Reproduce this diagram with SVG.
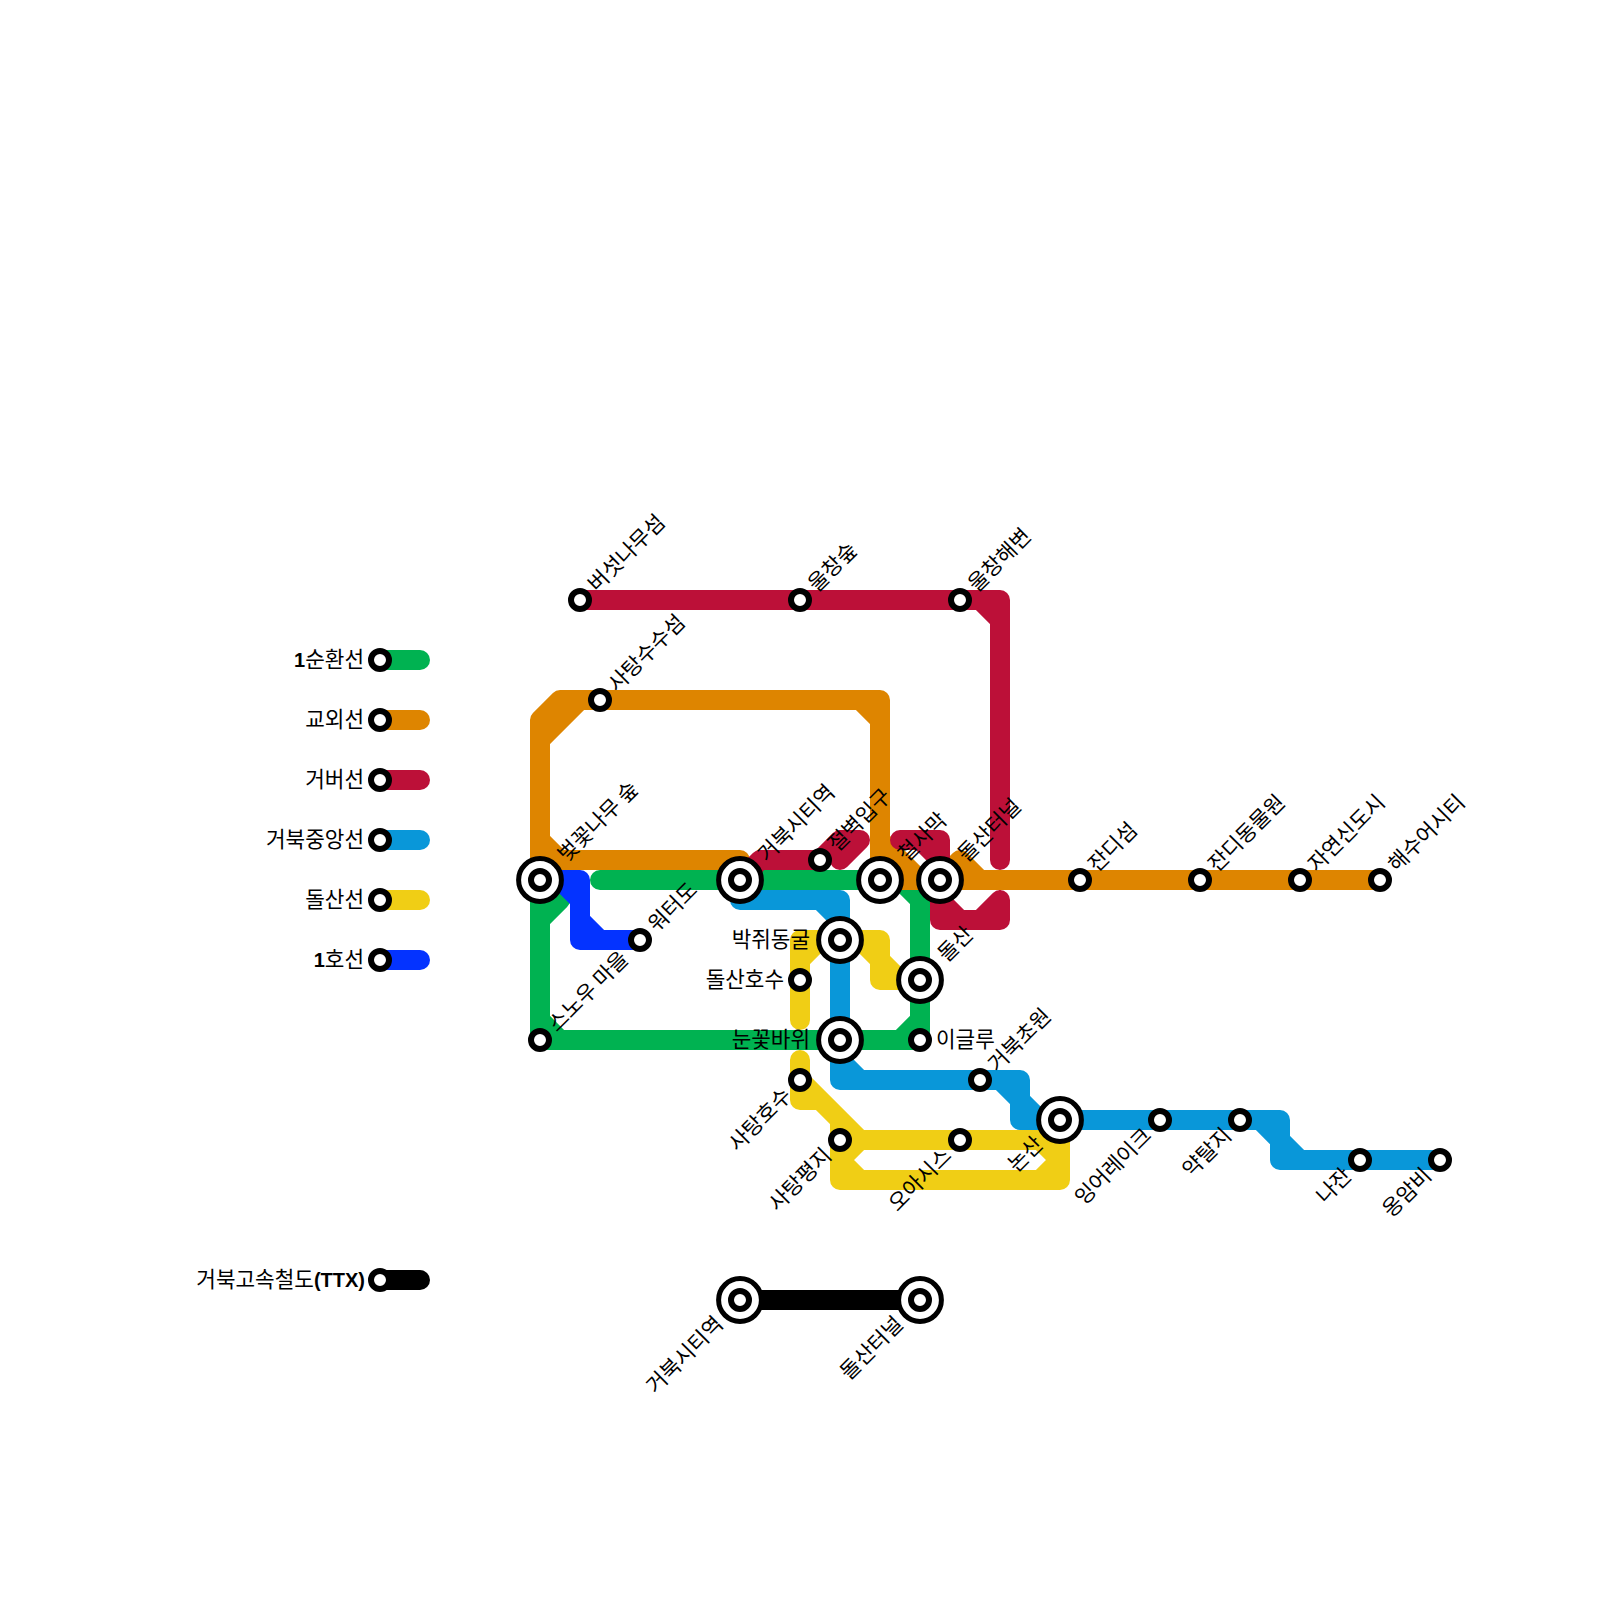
<svg xmlns="http://www.w3.org/2000/svg" width="1600" height="1600" viewBox="0 0 1600 1600">
<style>
text{font-family:"Noto Sans CJK KR","Liberation Sans",sans-serif;font-size:21.3px;fill:#000}
.b{font-family:"Liberation Sans",sans-serif;font-weight:700;font-size:20px}
.l{fill:none;stroke-width:20;stroke-linecap:round;stroke-linejoin:round}
.g{stroke:#00b251}.o{stroke:#de8500}.r{stroke:#bc1038}.c{stroke:#0997d9}.y{stroke:#f0ce15}.u{stroke:#0433ff}.k{stroke:#000}
.s{fill:#fff;stroke:#000;stroke-width:6}
.t{stroke-width:5}
.e{text-anchor:end}
</style>
<defs>
<g id="st"><circle class="s" r="9"/></g>
<g id="ix"><circle class="s t" r="21.4"/><circle class="s" r="9"/></g>
</defs>
<rect width="1600" height="1600" fill="#fff"/>
<g id="connectors">
<path class="l y" d="M800 1020V940H880V980H920M800 960L820 940M860 940L880 960L900 980"/>
<path class="l y" d="M800 1060V1100H820L840 1120V1180H1060V1120M800 1080L860 1140H1060M860 1140L840 1160L860 1180M1040 1180L1060 1160L1040 1140"/>
<path class="l c" d="M740 880V900H840V1080H1020V1120H1280V1160H1440M820 900L840 920M840 1060L860 1080M1000 1080L1020 1100L1040 1120M1260 1120L1280 1140L1300 1160"/>
<path class="l g" d="M600 880H920V1040H540V880L560 900L540 920M900 880L920 900M900 1040L920 1020M540 1020L560 1040"/>
<path class="l u" d="M540 880H580V940H640M560 880L580 900M580 920L600 940"/>
<path class="l o" d="M540 880V720L560 700H880V880L920 880M580 700L540 740M860 700L880 720M540 860H740V880M540 840L560 860M880 840L920 880M940 880L960 860L980 880M940 880H1380"/>
<path class="l r" d="M580 600H1000V860M980 600L1000 620M740 880L760 860H820L840 840H860L840 860M820 860L840 840M900 840H940V880M920 840L940 860M940 880V920H1000V900M940 900L960 920M980 920L1000 900"/>
<path class="l k" d="M740 1300H920"/>
<path class="l g" d="M380 660H420"/><path class="l o" d="M380 720H420"/><path class="l r" d="M380 780H420"/><path class="l c" d="M380 840H420"/><path class="l y" d="M380 900H420"/><path class="l u" d="M380 960H420"/><path class="l k" d="M380 1280H420"/>
</g>
<g id="legend">
<g id="lg1"><use href="#st" x="380" y="660"/><text x="364" y="666.500" class="e"><tspan class="b">1</tspan>순환선</text></g>
<g id="lg2"><use href="#st" x="380" y="720"/><text x="364" y="726.500" class="e">교외선</text></g>
<g id="lg3"><use href="#st" x="380" y="780"/><text x="364" y="786.500" class="e">거버선</text></g>
<g id="lg4"><use href="#st" x="380" y="840"/><text x="364" y="846.500" class="e">거북중앙선</text></g>
<g id="lg5"><use href="#st" x="380" y="900"/><text x="364" y="906.500" class="e">돌산선</text></g>
<g id="lg6"><use href="#st" x="380" y="960"/><text x="364" y="966.500" class="e"><tspan class="b">1</tspan>호선</text></g>
<g id="lg7"><use href="#st" x="380" y="1280"/><text x="365" y="1286.500" class="e">거북고속철도<tspan class="b">(TTX)</tspan></text></g>
</g>
<g id="n1"><use href="#ix" x="540" y="880"/><text transform="translate(540 880) rotate(-45)" x="31" y="7">벚꽃나무 숲</text></g>
<g id="n2"><use href="#st" x="580" y="600"/><text transform="translate(580 600) rotate(-45)" x="17" y="7">버섯나무섬</text></g>
<g id="n3"><use href="#st" x="800" y="600"/><text transform="translate(800 600) rotate(-45)" x="17" y="7">울창숲</text></g>
<g id="n4"><use href="#st" x="960" y="600"/><text transform="translate(960 600) rotate(-45)" x="17" y="7">울창해변</text></g>
<g id="n5"><use href="#st" x="600" y="700"/><text transform="translate(600 700) rotate(-45)" x="17" y="7">사탕수수섬</text></g>
<g id="n6"><use href="#ix" x="740" y="880"/><text transform="translate(740 880) rotate(-45)" x="31" y="7">거북시티역</text></g>
<g id="n7"><use href="#st" x="820" y="860"/><text transform="translate(820 860) rotate(-45)" x="17" y="7">절벽입구</text></g>
<g id="n8"><use href="#ix" x="880" y="880"/><text transform="translate(880 880) rotate(-45)" x="31" y="7">철사막</text></g>
<g id="n9"><use href="#ix" x="940" y="880"/><text transform="translate(940 880) rotate(-45)" x="31" y="7">돌산터널</text></g>
<g id="n10"><use href="#st" x="1080" y="880"/><text transform="translate(1080 880) rotate(-45)" x="17" y="7">잔디섬</text></g>
<g id="n11"><use href="#st" x="1200" y="880"/><text transform="translate(1200 880) rotate(-45)" x="17" y="7">잔디동물원</text></g>
<g id="n12"><use href="#st" x="1300" y="880"/><text transform="translate(1300 880) rotate(-45)" x="17" y="7">자연신도시</text></g>
<g id="n13"><use href="#st" x="1380" y="880"/><text transform="translate(1380 880) rotate(-45)" x="17" y="7">해수어시티</text></g>
<g id="n14"><use href="#st" x="640" y="940"/><text transform="translate(640 940) rotate(-45)" x="17" y="7">워터도</text></g>
<g id="n15"><use href="#st" x="540" y="1040"/><text transform="translate(540 1040) rotate(-45)" x="17" y="7">스노우 마을</text></g>
<g id="n16"><use href="#ix" x="920" y="980"/><text transform="translate(920 980) rotate(-45)" x="31" y="7">돌산</text></g>
<g id="n17"><use href="#st" x="980" y="1080"/><text transform="translate(980 1080) rotate(-45)" x="17" y="7">거북초원</text></g>
<g id="n18"><use href="#st" x="920" y="1040"/><text x="936" y="1046.500">이글루</text></g>
<g id="n19"><use href="#ix" x="840" y="940"/><text x="810" y="946.500" class="e">박쥐동굴</text></g>
<g id="n20"><use href="#st" x="800" y="980"/><text x="784" y="986.500" class="e">돌산호수</text></g>
<g id="n21"><use href="#ix" x="840" y="1040"/><text x="810" y="1046.500" class="e">눈꽃바위</text></g>
<g id="n22"><use href="#st" x="800" y="1080"/><text transform="translate(800 1080) rotate(-45)" x="-17" y="7" class="e">사탕호수</text></g>
<g id="n23"><use href="#st" x="840" y="1140"/><text transform="translate(840 1140) rotate(-45)" x="-17" y="7" class="e">사탕평지</text></g>
<g id="n24"><use href="#st" x="960" y="1140"/><text transform="translate(960 1140) rotate(-45)" x="-17" y="7" class="e">오아시스</text></g>
<g id="n25"><use href="#ix" x="1060" y="1120"/><text transform="translate(1060 1120) rotate(-45)" x="-29" y="7" class="e">논산</text></g>
<g id="n26"><use href="#st" x="1160" y="1120"/><text transform="translate(1160 1120) rotate(-45)" x="-17" y="7" class="e">잉어레이크</text></g>
<g id="n27"><use href="#st" x="1240" y="1120"/><text transform="translate(1240 1120) rotate(-45)" x="-17" y="7" class="e">약탈지</text></g>
<g id="n28"><use href="#st" x="1360" y="1160"/><text transform="translate(1360 1160) rotate(-45)" x="-17" y="7" class="e">나잔</text></g>
<g id="n29"><use href="#st" x="1440" y="1160"/><text transform="translate(1440 1160) rotate(-45)" x="-17" y="7" class="e">옹암비</text></g>
<g id="n30"><use href="#ix" x="740" y="1300"/><text transform="translate(740 1300) rotate(-45)" x="-29" y="7" class="e">거북시티역</text></g>
<g id="n31"><use href="#ix" x="920" y="1300"/><text transform="translate(920 1300) rotate(-45)" x="-29" y="7" class="e">돌산터널</text></g>
</svg>
